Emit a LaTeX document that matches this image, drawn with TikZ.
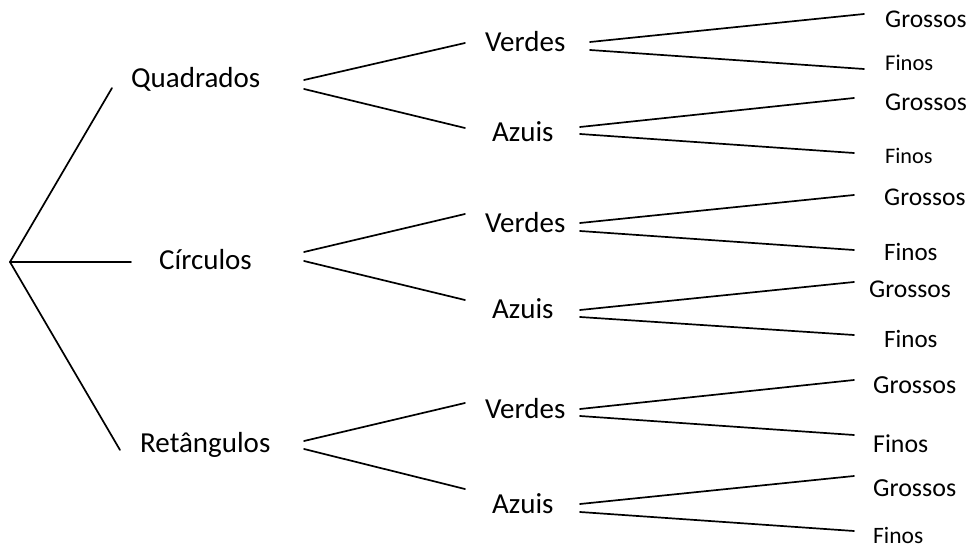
\documentclass[tikz,border=0pt]{standalone}
\usepackage{fontspec}
\setmainfont{Carlito}
\begin{document}
\begin{tikzpicture}[x=1bp,y=-1bp,
  branch/.style={line width=1.7bp, line cap=round},
  lab/.style={anchor=base west, inner sep=0pt, font=\fontsize{29bp}{34bp}\selectfont},
  leaf/.style={anchor=base west, inner sep=0pt, font=\fontsize{#1bp}{30bp}\selectfont},
  leaf/.default=25.5]
\useasboundingbox (0,0) rectangle (971,547);

% first level
\node[lab] (quad) at (131,88)  {Quadrados};
\node[lab] (circ) at (159,270) {Círculos};
\node[lab] (ret)  at (140,452) {Retângulos};

% second level
\node[lab] (v1) at (485,52)  {Verdes};
\node[lab] (a1) at (492,142) {Azuis};
\node[lab] (v2) at (485,233) {Verdes};
\node[lab] (a2) at (492,319) {Azuis};
\node[lab] (v3) at (485,418) {Verdes};
\node[lab] (a3) at (492,513) {Azuis};

% third level
\node[leaf=25.5] (g1) at (885,28)  {Grossos};
\node[leaf=22.5] (f1) at (885,71)  {Finos};
\node[leaf=25.6] (g2) at (885,111) {Grossos};
\node[leaf=22.2] (f2) at (885,164) {Finos};
\node[leaf=25.5] (g3) at (884,206) {Grossos};
\node[leaf=25]   (f3) at (884,261) {Finos};
\node[leaf=25.6] (g4) at (869,298) {Grossos};
\node[leaf=25]   (f4) at (884,348) {Finos};
\node[leaf=26]   (g5) at (873,393) {Grossos};
\node[leaf=25.8] (f5) at (873,452) {Finos};
\node[leaf=26]   (g6) at (873,496) {Grossos};
\node[leaf=23.5] (f6) at (873,543) {Finos};

% branch ends
\coordinate (root) at (10,262);
\coordinate (rq) at (112,88);
\coordinate (rc) at (131,262);
\coordinate (rr) at (120,450);

\coordinate (q-up) at (304,80);  \coordinate (v1-in) at (465,43);
\coordinate (q-dn) at (304,89);  \coordinate (a1-in) at (465,128);
\coordinate (c-up) at (304,252); \coordinate (v2-in) at (465,214);
\coordinate (c-dn) at (304,261); \coordinate (a2-in) at (465,300);
\coordinate (r-up) at (304,441); \coordinate (v3-in) at (465,403);
\coordinate (r-dn) at (304,449); \coordinate (a3-in) at (465,489);

\coordinate (v1-up) at (590,42);  \coordinate (g1-in) at (864,14);
\coordinate (v1-dn) at (590,50);  \coordinate (f1-in) at (864,69);
\coordinate (a1-up) at (580,127); \coordinate (g2-in) at (854,98);
\coordinate (a1-dn) at (580,134); \coordinate (f2-in) at (854,153);
\coordinate (v2-up) at (580,223); \coordinate (g3-in) at (854,195);
\coordinate (v2-dn) at (580,231); \coordinate (f3-in) at (854,250);
\coordinate (a2-up) at (580,310); \coordinate (g4-in) at (854,282);
\coordinate (a2-dn) at (580,317); \coordinate (f4-in) at (854,335);
\coordinate (v3-up) at (580,409); \coordinate (g5-in) at (854,380);
\coordinate (v3-dn) at (580,416); \coordinate (f5-in) at (854,435);
\coordinate (a3-up) at (580,504); \coordinate (g6-in) at (854,476);
\coordinate (a3-dn) at (580,512); \coordinate (f6-in) at (854,531);

\draw[branch] (rq) -- (root) -- (rr);
\draw[branch] (root) -- (rc);

\foreach \a/\b in {q-up/v1-in, q-dn/a1-in, c-up/v2-in, c-dn/a2-in, r-up/v3-in, r-dn/a3-in,
  v1-up/g1-in, v1-dn/f1-in, a1-up/g2-in, a1-dn/f2-in, v2-up/g3-in, v2-dn/f3-in,
  a2-up/g4-in, a2-dn/f4-in, v3-up/g5-in, v3-dn/f5-in, a3-up/g6-in, a3-dn/f6-in}
  \draw[branch] (\a) -- (\b);
\end{tikzpicture}
\end{document}
